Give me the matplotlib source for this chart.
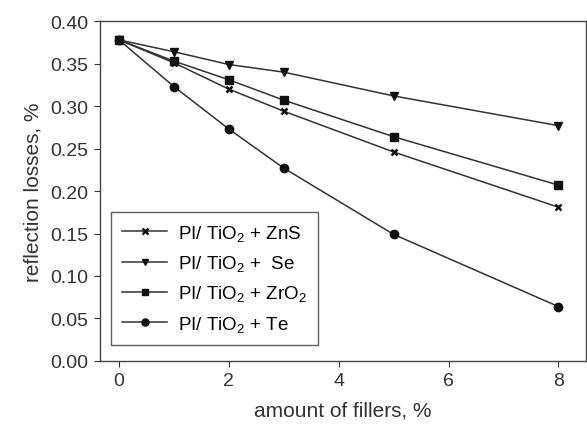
import numpy as np
import matplotlib
matplotlib.use("Agg")
import matplotlib.pyplot as plt

plt.rcParams['font.family'] = ['Liberation Sans', 'DejaVu Sans']
plt.rcParams['mathtext.default'] = 'regular'

fillers = [0, 1, 2, 3, 5, 8]
zns = [0.378, 0.351, 0.320, 0.294, 0.246, 0.181]
se = [0.378, 0.364, 0.349, 0.340, 0.312, 0.277]
zro2 = [0.378, 0.353, 0.331, 0.307, 0.264, 0.207]
te = [0.378, 0.323, 0.273, 0.227, 0.149, 0.064]

labels = ['PI/ TiO$_2$ + ZnS', 'PI/ TiO$_2$ +  Se',
          'PI/ TiO$_2$ + ZrO$_2$', 'PI/ TiO$_2$ + Te']
markers = ['x', 'v', 's', 'o']
sizes = [5, 5.5, 5.5, 6]

fig = plt.figure(figsize=(5.87, 4.35), dpi=100)
ax = fig.add_axes([0.170, 0.168, 0.828, 0.781])

for y, lab, m, ms in zip([zns, se, zro2, te], labels, markers, sizes):
    ax.plot(fillers, y, color='#333333', lw=1.1, marker=m, ms=ms,
            mec='#111111', mfc='#111111', mew=1.8 if m == 'x' else 1,
            label=lab)

ax.set_xlim(-0.35, 8.5)
ax.set_ylim(0, 0.40)
ax.set_xticks([0, 2, 4, 6, 8])
ax.set_yticks(np.arange(0, 0.401, 0.05))
ax.yaxis.set_major_formatter(matplotlib.ticker.FormatStrFormatter('%.2f'))
ax.tick_params(direction='out', labelsize=14, colors='#333333', length=4,
               pad=4)
for s in ax.spines.values():
    s.set_color('#444444')
    s.set_linewidth(1.0)

ax.set_xlabel('amount of fillers, %', fontsize=15, color='#333333',
              labelpad=8)
ax.set_ylabel('reflection losses, %', fontsize=15, color='#333333',
              labelpad=6)

leg = ax.legend(loc='lower left', bbox_to_anchor=(0.023, 0.047),
                borderaxespad=0, fontsize=13.5, markerscale=0.85,
                frameon=True, fancybox=False, edgecolor='#333333',
                handlelength=2.4, labelspacing=0.55, borderpad=0.6,
                handletextpad=0.6)
leg.get_frame().set_linewidth(1.0)

fig.savefig('out.png', dpi=100)
